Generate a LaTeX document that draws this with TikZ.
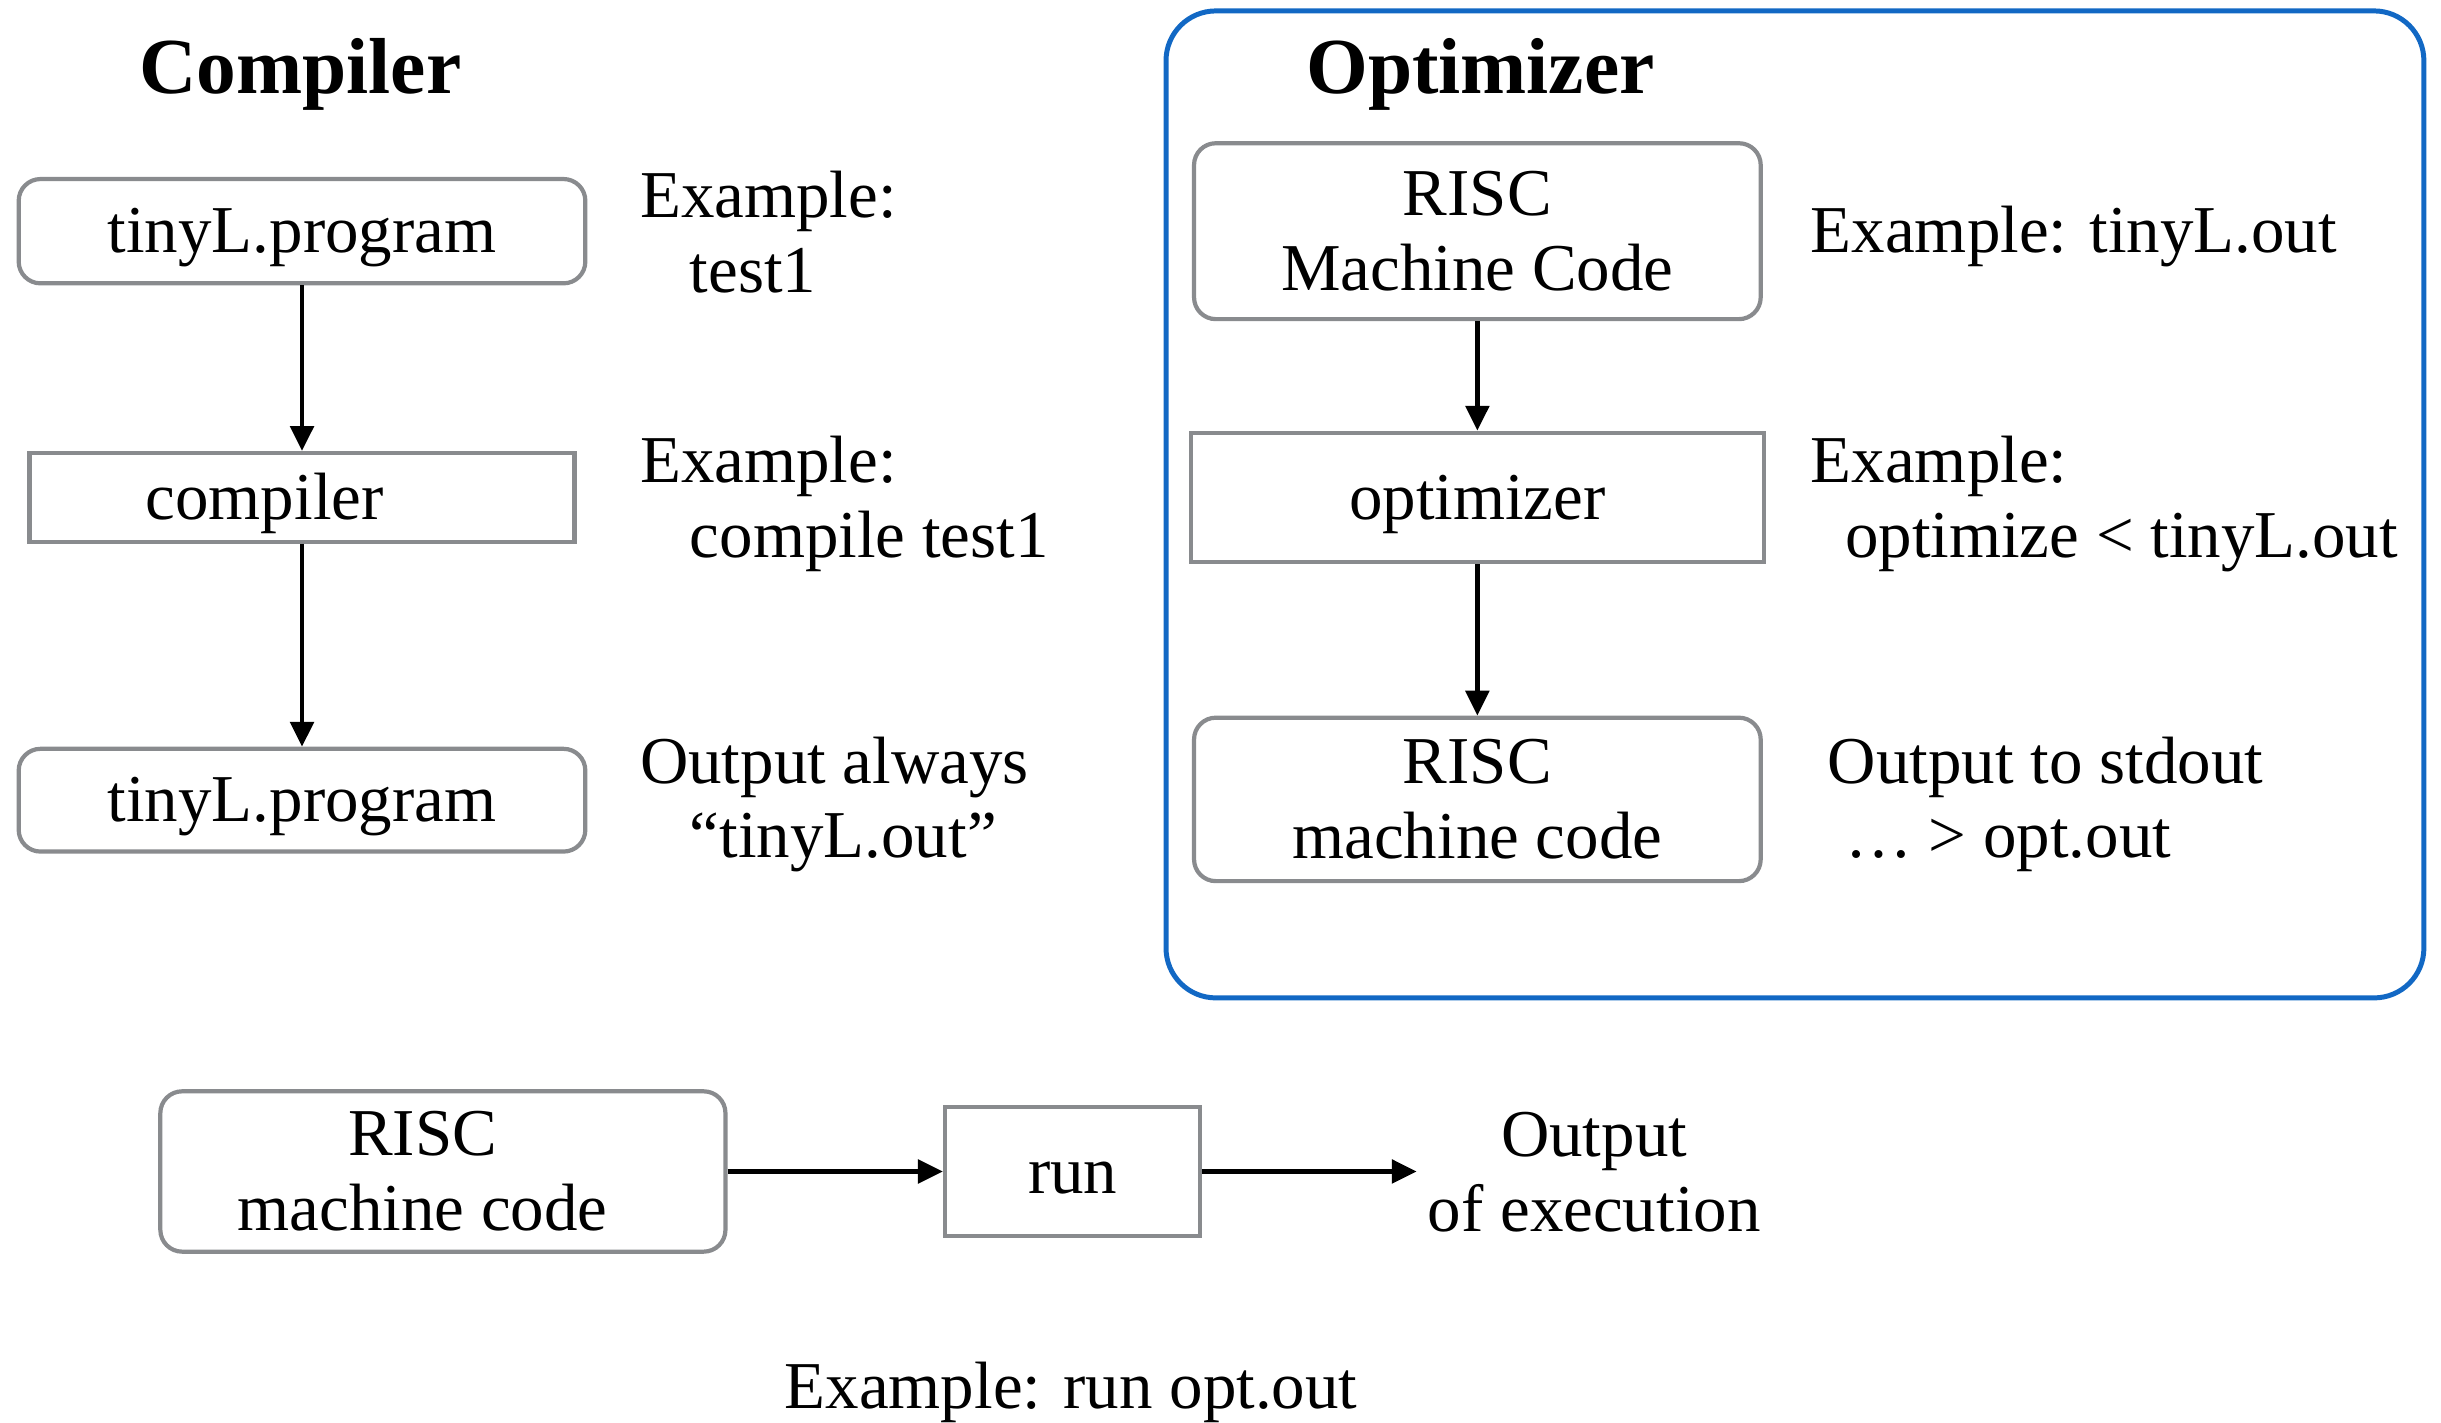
\documentclass[tikz,border=0pt]{standalone}
\usepackage{fontspec}
\setmainfont{Liberation Serif}
\usetikzlibrary{arrows.meta}
\definecolor{boxgray}{RGB}{137,139,142}
\definecolor{optblue}{RGB}{18,104,196}
\begin{document}
\begin{tikzpicture}[x=1pt,y=-1pt,
  every node/.style={font=\fontsize{43}{48}\selectfont, inner sep=0pt},
  rbox/.style={draw=boxgray, line width=2.7pt, rounded corners=14pt, fill=white, align=center, minimum width=364pt},
  sbox/.style={draw=boxgray, line width=2.7pt, fill=white, align=center},
  oneline/.style={text height=37pt, text depth=9pt},
  lbl/.style={anchor=base west},
  ttl/.style={font=\bfseries\fontsize{51}{56}\selectfont, anchor=base},
  arr/.style={line width=3pt, -{Triangle[length=16pt,width=15pt]}},
]
\useasboundingbox (0,0) rectangle (1568,914);

% optimizer frame
\node[draw=optblue, line width=3.2pt, rounded corners=32pt, minimum width=808pt, minimum height=634pt] (optframe) at (1153,324) {};

% titles
\node[ttl] (ctitle) at (193,60) {Compiler};
\node[ttl] (otitle) at (951,60) {Optimizer};

% compiler column
\node[rbox, oneline, minimum height=67pt] (tp1) at (194,148.5) {tinyL.program};
\node[sbox, oneline, minimum width=350pt, minimum height=57pt] (comp) at (194,319.5) {compiler\hspace*{48pt}};
\node[rbox, oneline, minimum height=66pt] (tp2) at (194,514) {tinyL.program};
\draw[arr] (tp1) -- (comp);
\draw[arr] (comp) -- (tp2);

\node[lbl] (l1a) at (411,140) {Example:};
\node[lbl] (l1b) at (443,188) {test1};
\node[lbl] (l2a) at (411,310) {Example:};
\node[lbl] (l2b) at (443,358) {compile test1};
\node[lbl] (l3a) at (411,503) {Output always};
\node[lbl] (l3b) at (443,551) {“tinyL.out”};

% optimizer column
\node[rbox, minimum height=113pt] (rmc1) at (949,148.5) {RISC\\Machine Code};
\node[sbox, oneline, minimum width=368pt, minimum height=83pt] (opt) at (949,319.5) {optimizer};
\node[rbox, minimum height=105pt] (rmc2) at (949,513.5) {RISC\\machine code};
\draw[arr] (rmc1) -- (opt);
\draw[arr] (opt) -- (rmc2);

\node[lbl] (r1) at (1163,162) {Example: tinyL.out};
\node[lbl] (r2a) at (1163,310) {Example:};
\node[lbl] (r2b) at (1185,358) {optimize < tinyL.out};
\node[lbl] (r3a) at (1174,503) {Output to stdout};
\node[lbl] (r3b) at (1185,551) {… > opt.out};

% bottom run
\node[rbox, minimum width=363pt, minimum height=103pt] (rmc3) at (284.5,752.5) {RISC\hspace*{26pt}\\machine code\hspace*{26pt}};
\node[sbox, oneline, minimum width=164pt, minimum height=83pt] (run) at (689,752.5) {run};
\coordinate (endx) at (910,752.5);
\draw[arr] (rmc3) -- (run);
\draw[arr] (run) -- (endx);
\node[anchor=base] (out1) at (1024,743) {Output};
\node[anchor=base] (out2) at (1024,791) {of execution};
\node[anchor=base] (runex) at (688,905) {Example: run opt.out};
\end{tikzpicture}
\end{document}
